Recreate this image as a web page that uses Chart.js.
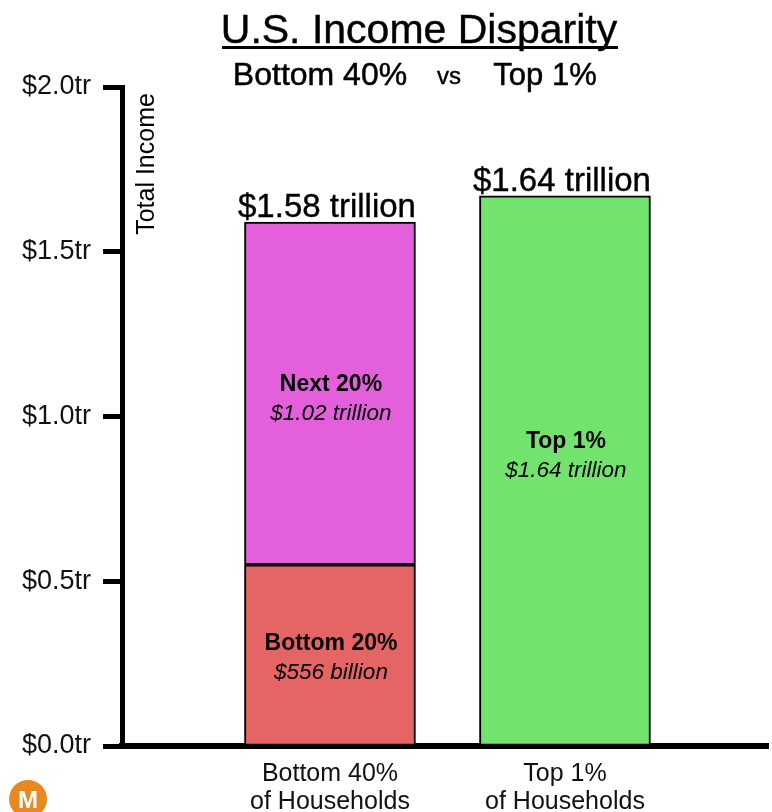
<!DOCTYPE html>
<html>
<head>
<meta charset="utf-8">
<title>U.S. Income Disparity</title>
<script src="https://cdn.jsdelivr.net/npm/chart.js@4"></script>
<style>
  html, body { margin: 0; padding: 0; background: #fff; }
  canvas { display: block; }
</style>
</head>
<body>
<canvas id="chart" width="772" height="812"></canvas>
<script>
const categories = [["Bottom 40%", "of Households"], ["Top 1%", "of Households"]];
const yTickLabels = ["$0.0tr", "$0.5tr", "$1.0tr", "$1.5tr", "$2.0tr"];
const bottom20 = [0.55, null];
const next20 = [1.04, null];
const top1 = [null, 1.67];
const segmentNames = ["Bottom 20%", "Next 20%", "Top 1%"];
const segmentAmounts = ["$556 billion", "$1.02 trillion", "$1.64 trillion"];
const totalLabels = ["$1.58 trillion", "$1.64 trillion"];

const FONT = '"Liberation Sans", Arial, sans-serif';

const textPlugin = {
  id: "textPlugin",
  afterDraw(chart) {
    const ctx = chart.ctx;
    // heavy adds a thin stroke, the reference text is a bit thicker than regular
    const text = (str, x, y, font, heavy) => {
      ctx.font = `${font} ${FONT}`;
      ctx.textAlign = "center";
      ctx.fillText(str, x, y);
      if (heavy) {
        ctx.lineWidth = heavy;
        ctx.strokeStyle = "#000";
        ctx.strokeText(str, x, y);
      }
    };
    ctx.save();
    ctx.fillStyle = "#000";
    ctx.textBaseline = "alphabetic";

    // title + underline
    text("U.S. Income Disparity", 419, 43, "41px", 0.4);
    ctx.fillRect(222, 46, 396, 3);
    text("Bottom 40%", 320, 85, "32px", 0.5);
    text("vs", 449, 84, "24px", 0.4);
    text("Top 1%", 545, 85, "31px", 0.5);

    // axis title sits inside the axis
    ctx.save();
    ctx.translate(154, 164);
    ctx.rotate(-Math.PI / 2);
    text("Total Income", 0, 0, "25px");
    ctx.restore();

    // labels inside the segments
    const inner = [[0, 0, 1], [1, 0, 4], [2, 1, -17]];
    inner.forEach(([ds, idx, dy]) => {
      const bar = chart.getDatasetMeta(ds).data[idx];
      const mid = (bar.y + bar.base) / 2 + dy;
      text(segmentNames[ds], bar.x + 1, mid - 6, "bold 23px");
      text(segmentAmounts[ds], bar.x + 1, mid + 23, "italic 22.5px");
    });

    // totals above the stacks
    const tops = [chart.getDatasetMeta(1).data[0], chart.getDatasetMeta(2).data[1]];
    tops.forEach((bar, i) => {
      text(totalLabels[i], bar.x - 3, bar.y - 5, "33px", 0.4);
    });

    // source logo
    ctx.fillStyle = "#E8891F";
    ctx.beginPath();
    ctx.arc(28, 799, 19, 0, Math.PI * 2);
    ctx.fill();
    ctx.fillStyle = "#fff";
    text("M", 28, 808, "bold 24px");
    ctx.restore();
  },
};

new Chart("chart", {
  type: "bar",
  plugins: [textPlugin],
  data: {
    datasets: [
      { data: bottom20.map((y, x) => ({ x, y })), backgroundColor: "#E56464" },
      { data: next20.map((y, x) => ({ x, y })), backgroundColor: "#E45FDC" },
      { data: top1.map((y, x) => ({ x, y })), backgroundColor: "#72E36C" },
    ],
  },
  options: {
    responsive: false,
    animation: false,
    devicePixelRatio: 1,
    layout: { padding: { top: 87, right: 4, left: 0, bottom: 0 } },
    datasets: {
      bar: { barThickness: 171, borderColor: "#000", borderWidth: 2, borderSkipped: false, stack: "a" },
    },
    plugins: { legend: { display: false }, tooltip: { enabled: false } },
    scales: {
      x: {
        type: "linear",
        stacked: true,
        offset: false,
        min: -0.885,
        max: 1.864,
        afterBuildTicks(scale) { scale.ticks = [{ value: 0 }, { value: 1 }]; },
        afterFit(scale) { scale.height = 66; },
        grid: { display: false, offset: false },
        border: { color: "#000", width: 6 },
        ticks: {
          autoSkip: false,
          maxRotation: 0,
          padding: 6,
          color: "#111",
          font: { family: FONT, size: 25, lineHeight: 1.12 },
          callback: (v) => categories[v],
        },
      },
      y: {
        stacked: true,
        min: 0,
        max: 2,
        afterFit(scale) { scale.width = 122; },
        grid: { drawOnChartArea: false, drawTicks: true, tickLength: 19, tickWidth: 5, tickColor: "#000" },
        border: { color: "#000", width: 5 },
        ticks: {
          stepSize: 0.5,
          padding: 12,
          color: "#111",
          font: { family: FONT, size: 27 },
          callback: (v) => yTickLabels[v / 0.5],
        },
      },
    },
  },
});
</script>
</body>
</html>
